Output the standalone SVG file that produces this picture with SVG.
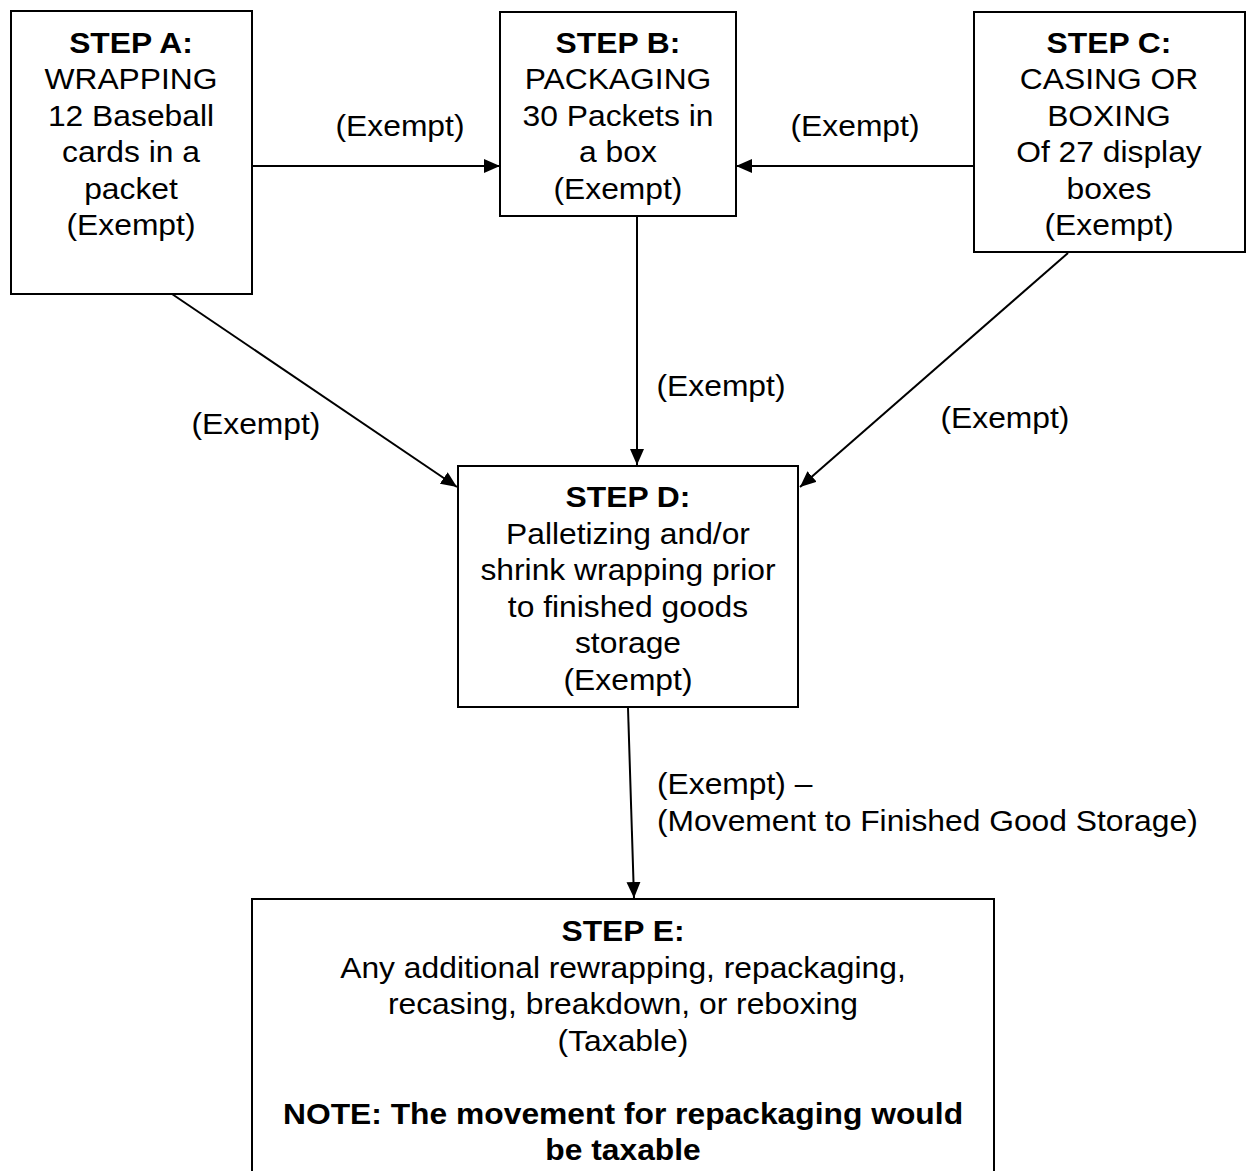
<svg xmlns="http://www.w3.org/2000/svg" width="1248" height="1171" viewBox="0 0 1248 1171">
<style>
.box{fill:#fff;stroke:#000;stroke-width:2}
text{font-family:"Liberation Sans",Arial,sans-serif;font-size:30px;fill:#000;transform-box:fill-box;transform-origin:center;transform:scaleX(1.06)}
text.l{transform-origin:left center}
.c{text-anchor:middle}
.b{font-weight:bold}
.conn{stroke:#000;stroke-width:2;fill:none}
</style>
<defs>
<marker id="ah" markerUnits="userSpaceOnUse" markerWidth="16" markerHeight="14" refX="16" refY="7" orient="auto">
<path d="M0,0 L16,7 L0,14 Z" fill="#000"/>
</marker>
</defs>
<rect width="1248" height="1171" fill="#fff"/>
<g id="connectors">
<line class="conn" x1="252" y1="166" x2="500" y2="166" marker-end="url(#ah)"/>
<line class="conn" x1="973" y1="166" x2="736" y2="166" marker-end="url(#ah)"/>
<line class="conn" x1="637" y1="216" x2="637" y2="465" marker-end="url(#ah)"/>
<line class="conn" x1="172" y1="294" x2="457" y2="487" marker-end="url(#ah)"/>
<line class="conn" x1="1068" y1="253" x2="800" y2="487" marker-end="url(#ah)"/>
<line class="conn" x1="628" y1="708" x2="634" y2="898" marker-end="url(#ah)"/>
<text x="400" y="136" class="c">(Exempt)</text>
<text x="855" y="136" class="c">(Exempt)</text>
<text x="721" y="396" class="c">(Exempt)</text>
<text x="256" y="434" class="c">(Exempt)</text>
<text x="1005" y="428" class="c">(Exempt)</text>
<text x="657" y="794" class="l">(Exempt) –</text>
<text x="657" y="831" class="l">(Movement to Finished Good Storage)</text>
</g>
<g id="stepA">
<rect class="box" x="11" y="11" width="241" height="283"/>
<text class="c b" x="131" y="53">STEP A:</text>
<text class="c" x="131" y="89">WRAPPING</text>
<text class="c" x="131" y="126">12 Baseball</text>
<text class="c" x="131" y="162">cards in a</text>
<text class="c" x="131" y="199">packet</text>
<text class="c" x="131" y="235">(Exempt)</text>
</g>
<g id="stepB">
<rect class="box" x="500" y="12" width="236" height="204"/>
<text class="c b" x="618" y="53">STEP B:</text>
<text class="c" x="618" y="89">PACKAGING</text>
<text class="c" x="618" y="126">30 Packets in</text>
<text class="c" x="618" y="162">a box</text>
<text class="c" x="618" y="199">(Exempt)</text>
</g>
<g id="stepC">
<rect class="box" x="974" y="12" width="271" height="240"/>
<text class="c b" x="1109" y="53">STEP C:</text>
<text class="c" x="1109" y="89">CASING OR</text>
<text class="c" x="1109" y="126">BOXING</text>
<text class="c" x="1109" y="162">Of 27 display</text>
<text class="c" x="1109" y="199">boxes</text>
<text class="c" x="1109" y="235">(Exempt)</text>
</g>
<g id="stepD">
<rect class="box" x="458" y="466" width="340" height="241"/>
<text class="c b" x="628" y="507">STEP D:</text>
<text class="c" x="628" y="544">Palletizing and/or</text>
<text class="c" x="628" y="580">shrink wrapping prior</text>
<text class="c" x="628" y="617">to finished goods</text>
<text class="c" x="628" y="653">storage</text>
<text class="c" x="628" y="690">(Exempt)</text>
</g>
<g id="stepE">
<rect class="box" x="252" y="899" width="742" height="300"/>
<text class="c b" x="623" y="941">STEP E:</text>
<text class="c" x="623" y="978">Any additional rewrapping, repackaging,</text>
<text class="c" x="623" y="1014">recasing, breakdown, or reboxing</text>
<text class="c" x="623" y="1051">(Taxable)</text>
<text class="c b" x="623" y="1124">NOTE: The movement for repackaging would</text>
<text class="c b" x="623" y="1160">be taxable</text>
</g>
</svg>
